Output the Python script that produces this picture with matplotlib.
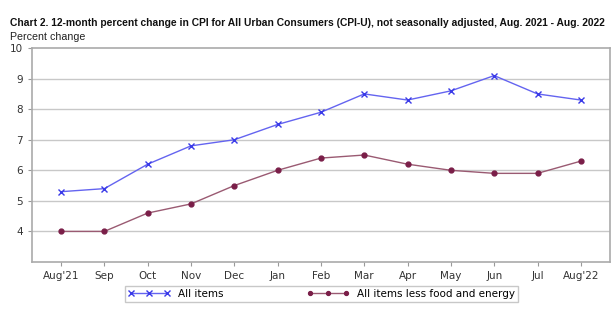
import matplotlib.pyplot as plt

months = ["Aug'21", "Sep", "Oct", "Nov", "Dec", "Jan", "Feb", "Mar", "Apr",
          "May", "Jun", "Jul", "Aug'22"]
all_items = [5.3, 5.4, 6.2, 6.8, 7.0, 7.5, 7.9, 8.5, 8.3, 8.6, 9.1, 8.5, 8.3]
core = [4.0, 4.0, 4.6, 4.9, 5.5, 6.0, 6.4, 6.5, 6.2, 6.0, 5.9, 5.9, 6.3]

BLUE = "#3a3ae8"
BLUE_LINE = "#6464f0"
MAROON = "#7a1e48"
MAROON_LINE = "#9a5a72"
GRID = "#c8c8c8"

plt.rcParams["font.family"] = "DejaVu Sans"

fig = plt.figure(figsize=(6.16, 3.25), dpi=100)
ax = fig.add_axes([0.052, 0.194, 0.938, 0.658])

xs = list(range(len(months)))
ax.plot(xs, all_items, color=BLUE_LINE, linewidth=1.0, marker="x",
        markersize=5, markeredgecolor=BLUE, markeredgewidth=1.0, label="All items")
ax.plot(xs, core, color=MAROON_LINE, linewidth=1.0, marker="o",
        markersize=3.5, markerfacecolor=MAROON, markeredgecolor=MAROON,
        label="All items less food and energy")

ax.set_xlim(-0.67, 12.67)
ax.set_ylim(3, 10)
ax.set_yticks([4, 5, 6, 7, 8, 9, 10])
ax.set_xticks(xs)
ax.set_xticklabels(months)
ax.tick_params(labelsize=7.5, colors="#333333", length=3, color="#999999")
for y in [4, 5, 6, 7, 8, 9]:
    ax.axhline(y, color=GRID, linewidth=1.0, zorder=0)
for s in ax.spines.values():
    s.set_color("#aaaaaa")
    s.set_linewidth(1.2)

fig.text(0.016, 0.93, "Chart 2. 12-month percent change in CPI for All Urban Consumers (CPI-U), "
         "not seasonally adjusted, Aug. 2021 - Aug. 2022",
         fontsize=7.4, fontweight="bold", family="Liberation Sans",
         va="center", ha="left", color="#111111")
fig.text(0.016, 0.885, "Percent change", fontsize=7.7, family="Liberation Sans",
         va="center", ha="left", color="#222222")

leg = fig.legend(loc="center", bbox_to_anchor=(0.522, 0.095), ncol=2,
                 fontsize=7.5, frameon=True, fancybox=False, edgecolor="#bbbbbb",
                 handlelength=4, numpoints=3, columnspacing=8, markerscale=0.8,
                 borderpad=0.3)
leg.get_frame().set_linewidth(1.0)

fig.savefig("out.png", dpi=100)
